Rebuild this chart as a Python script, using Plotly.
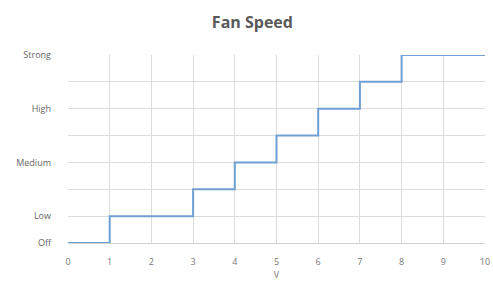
import plotly.graph_objects as go

x_values = [0, 1, 2, 3, 4, 5, 6, 7, 8, 9, 10]
speed_levels = [0, 1, 1, 2, 3, 4, 5, 6, 7, 7, 7]
y_tick_values = [0, 1, 3, 5, 7]
y_tick_labels = ["Off", "Low", "Medium", "High", "Strong"]
x_tick_values = list(range(0, 11))

fig = go.Figure()
fig.add_trace(go.Scatter(
    x=x_values, y=speed_levels, mode="lines", line_shape="hv",
    line=dict(color="#6f9fd3", width=2), cliponaxis=False, showlegend=False,
))

font = dict(family="Open Sans, Liberation Sans, sans-serif", color="#666666")
fig.update_layout(
    width=493, height=285,
    margin=dict(l=68, r=8, t=55, b=42, autoexpand=False),
    paper_bgcolor="white", plot_bgcolor="white",
    title=dict(text="<b>Fan Speed</b>", x=0.512, xanchor="center", y=0.92, yanchor="middle",
               font=dict(family="Open Sans, sans-serif", size=16, color="#595959")),
    font=font,
)
fig.update_xaxes(range=[0, 10], tickvals=x_tick_values, showgrid=True, gridcolor="#dcdcdc",
                 gridwidth=1, zeroline=False, showline=True, linecolor="#d0d0d0",
                 ticks="", tickfont=dict(size=9, color="#777777"), ticklabelstandoff=10,
                 automargin=False,
                 title=dict(text="V", font=dict(size=9, color="#777777"), standoff=2))
fig.update_yaxes(range=[0, 7], tickvals=y_tick_values, ticktext=y_tick_labels,
                 showgrid=True, gridcolor="#dcdcdc", gridwidth=1, zeroline=False,
                 minor=dict(dtick=1, tick0=0, showgrid=True, gridcolor="#dcdcdc", gridwidth=1),
                 showline=False, ticks="", tickfont=dict(size=9, color="#666666"),
                 ticklabelstandoff=16, automargin=False)

fig.write_html("out.html", config={"displayModeBar": False},
               post_script="document.body.style.margin='0';document.body.style.padding='0';")
